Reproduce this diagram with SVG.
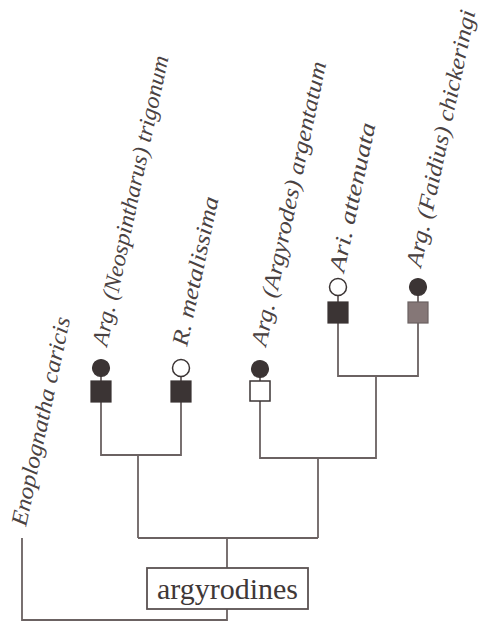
<svg xmlns="http://www.w3.org/2000/svg" width="478" height="622" viewBox="0 0 478 622">
<style>
.ln{fill:none;stroke:#6b6262;stroke-width:1.8}
.lab{font-family:"Liberation Serif","Times New Roman",serif;font-style:italic;font-size:23px;fill:#4a4242}
.dk{fill:#3b3434;stroke:#3b3434;stroke-width:1.2}
.wh{fill:#ffffff;stroke:#3b3434;stroke-width:1.5}
.gr{fill:#857777;stroke:#6b6262;stroke-width:1.2}
.box{fill:#ffffff;stroke:#5a5252;stroke-width:1.8}
.root{font-family:"Liberation Serif","Times New Roman",serif;font-size:30px;fill:#3f3838}
</style>
<rect width="478" height="622" fill="#ffffff"/>
<g id="connectors">
<path class="ln" d="M22,538 V620 H227 V609"/>
<path class="ln" d="M227,568 V538"/>
<path class="ln" d="M138,538 H318"/>
<path class="ln" d="M138,538 V455"/>
<path class="ln" d="M101,368 V455 H181 V368"/>
<path class="ln" d="M318,538 V458"/>
<path class="ln" d="M260,368 V458 H376 V376"/>
<path class="ln" d="M338,287 V376 H418 V287"/>
</g>
<g id="enoplognatha">
<text class="lab" transform="translate(26,527) rotate(-78)" textLength="213" lengthAdjust="spacingAndGlyphs">Enoplognatha caricis</text>
</g>
<g id="trigonum">
<circle class="dk" cx="101" cy="368" r="8.5"/>
<rect class="dk" x="91" y="381" width="20" height="21"/>
<text class="lab" transform="translate(107,347) rotate(-78)" textLength="296" lengthAdjust="spacingAndGlyphs">Arg. (Neospintharus) trigonum</text>
</g>
<g id="metalissima">
<circle class="wh" cx="181" cy="368" r="8.5"/>
<rect class="dk" x="171" y="381" width="20" height="21"/>
<text class="lab" transform="translate(187,347) rotate(-78)" textLength="152" lengthAdjust="spacingAndGlyphs">R. metalissima</text>
</g>
<g id="argentatum">
<circle class="dk" cx="260" cy="369" r="8.5"/>
<rect class="wh" x="250" y="381" width="20" height="20"/>
<text class="lab" transform="translate(266,347) rotate(-78)" textLength="290" lengthAdjust="spacingAndGlyphs">Arg. (Argyrodes) argentatum</text>
</g>
<g id="attenuata">
<circle class="wh" cx="338" cy="287" r="8.5"/>
<rect class="dk" x="328" y="302" width="20" height="21"/>
<text class="lab" transform="translate(344,273) rotate(-78)" textLength="152" lengthAdjust="spacingAndGlyphs">Ari. attenuata</text>
</g>
<g id="chickeringi">
<circle class="dk" cx="418" cy="287" r="8.5"/>
<rect class="gr" x="408" y="302" width="20" height="21"/>
<text class="lab" transform="translate(421,268) rotate(-78)" textLength="262" lengthAdjust="spacingAndGlyphs">Arg. (Faidius) chickeringi</text>
</g>
<g id="argyrodines">
<rect class="box" x="147" y="568" width="161" height="41"/>
<text class="root" x="227.5" y="599" text-anchor="middle">argyrodines</text>
</g>
</svg>
